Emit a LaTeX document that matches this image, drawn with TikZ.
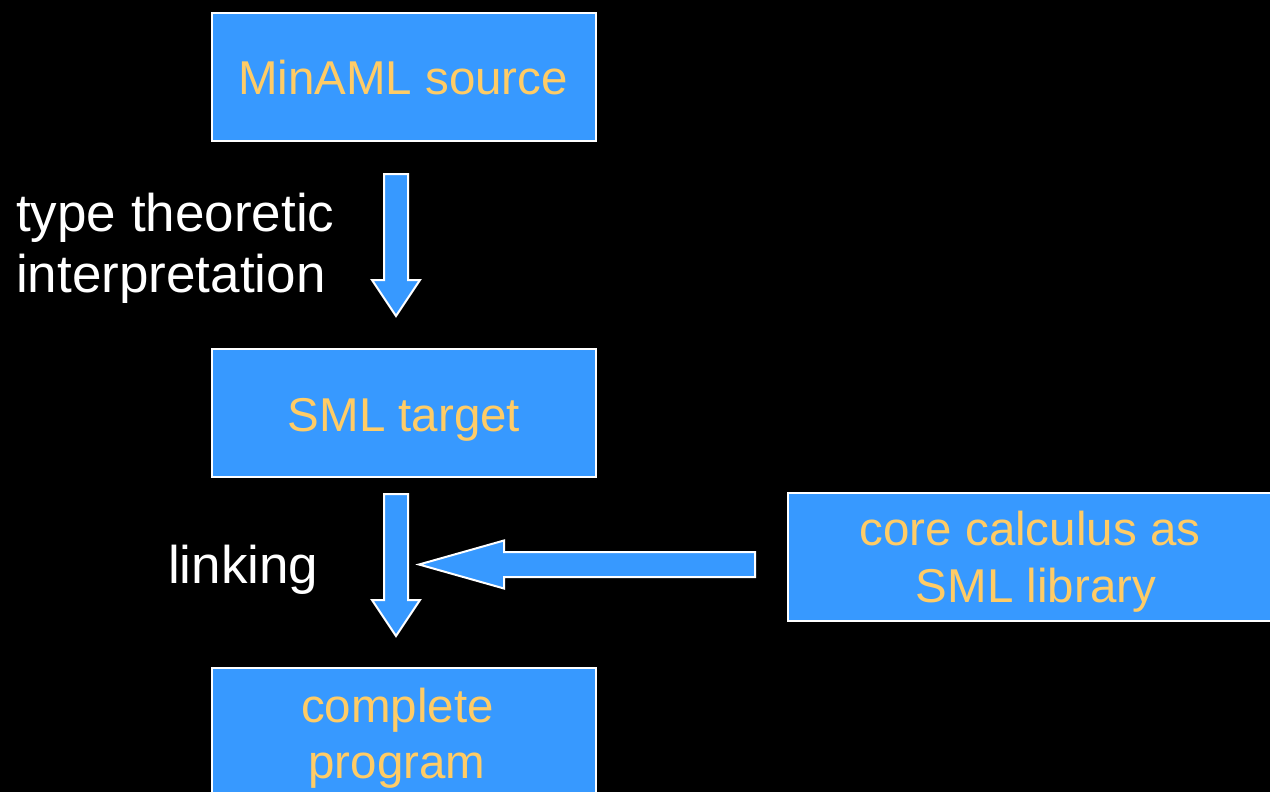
\documentclass[tikz,border=0pt]{standalone}
\usepackage{fontspec}
\setmainfont{Liberation Sans}
\usetikzlibrary{calc}
\definecolor{boxblue}{RGB}{55,153,255}
\definecolor{txtyellow}{RGB}{255,204,102}
\tikzset{
  box/.style={draw=white, line width=2pt, fill=boxblue, rectangle, inner sep=0pt},
  boxtext/.style={text=txtyellow, inner sep=0pt, anchor=base, font=\fontsize{47.5}{57}\selectfont},
  sidetext/.style={text=white, inner sep=0pt, anchor=base west, font=\fontsize{53}{61}\selectfont},
  blockarrow/.style={draw=white, line width=2pt, fill=boxblue, line join=miter}
}
\begin{document}
\begin{tikzpicture}[x=1pt,y=-1pt]
\fill[black] (0,0) rectangle (1270,792);
\clip (0,0) rectangle (1270,792);
% boxes
\node[box, minimum width=384pt, minimum height=128pt] (src) at (404,77) {};
\node[box, minimum width=384pt, minimum height=128pt] (tgt) at (404,413) {};
\node[box, minimum width=384pt, minimum height=128pt] (prog) at (404,732) {};
\node[box, minimum width=487pt, minimum height=128pt] (lib) at (1031.5,557) {};
% box texts
\node[boxtext] (srcT) at (403,95) {MinAML source};
\node[boxtext] (tgtT) at (404,431) {SML target};
\node[boxtext] (progA) at (397.5,722) {complete};
\node[boxtext] (progB) at (397,778) {program};
\node[boxtext] (libA) at (1030,545) {core calculus as};
\node[boxtext] (libB) at (1036,602) {SML library};
% side labels
\node[sidetext] (lblA) at (16,231) {type theoretic};
\node[sidetext] (lblB) at (16,292) {interpretation};
\node[sidetext] (lblC) at (168,583) {linking};
% arrow 1: src -> tgt
\coordinate (a1) at ($(src.south)+(-8,32)$);
\coordinate (a1t) at ($(tgt.north)+(-8,-32)$);
\draw[blockarrow] ($(a1)+(-12,0)$) -- ($(a1)+(12,0)$) -- ($(a1t)+(12,-36)$) -- ($(a1t)+(24,-36)$)
  -- (a1t) -- ($(a1t)+(-24,-36)$) -- ($(a1t)+(-12,-36)$) -- cycle;
% arrow 2: tgt -> prog
\coordinate (a2) at ($(tgt.south)+(-8,16)$);
\coordinate (a2t) at ($(prog.north)+(-8,-31)$);
\draw[blockarrow] ($(a2)+(-12,0)$) -- ($(a2)+(12,0)$) -- ($(a2t)+(12,-36)$) -- ($(a2t)+(24,-36)$)
  -- (a2t) -- ($(a2t)+(-24,-36)$) -- ($(a2t)+(-12,-36)$) -- cycle;
% arrow 3: lib -> link arrow
\coordinate (a3) at ($(lib.west)+(-32,7.5)$);
\coordinate (a3t) at (419,564.5);
\draw[blockarrow] ($(a3)+(0,-12.5)$) -- ($(a3)+(0,12.5)$) -- ($(a3t)+(85,12.5)$) -- ($(a3t)+(85,24)$)
  -- (a3t) -- ($(a3t)+(85,-24)$) -- ($(a3t)+(85,-12.5)$) -- cycle;
\end{tikzpicture}
\end{document}
